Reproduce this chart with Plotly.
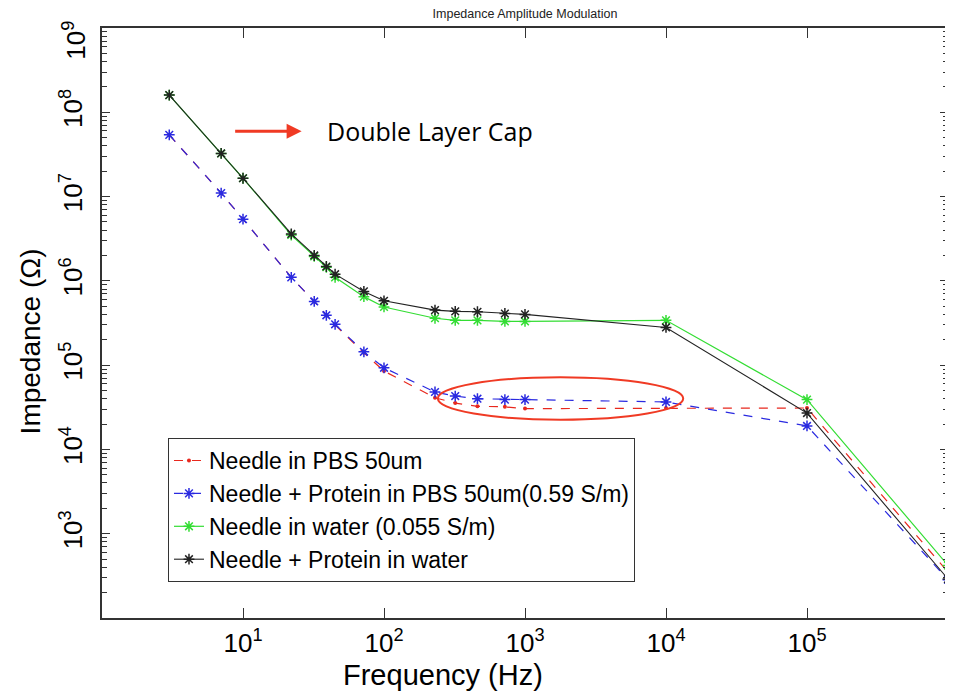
import plotly.graph_objects as go

freq = [3, 7, 10, 22, 32, 39, 45, 72, 100, 230, 320, 460, 720, 1000, 1e4, 1e5, 1e6]

pbs = [5.4e7, 1.1e7, 5.4e6, 1.1e6, 5.7e5, 3.9e5, 3.0e5, 1.4e5, 8.5e4, 4.1e4, 3.55e4, 3.25e4, 3.2e4, 3.05e4, 3.1e4, 3.1e4, 350]
pbs_protein = [5.4e7, 1.1e7, 5.4e6, 1.1e6, 5.7e5, 3.9e5, 3.05e5, 1.44e5, 9.3e4, 4.8e4, 4.3e4, 4.0e4, 3.9e4, 3.9e4, 3.66e4, 1.9e4, 285]
water = [1.6e8, 3.25e7, 1.65e7, 3.5e6, 1.95e6, 1.45e6, 1.1e6, 6.5e5, 4.9e5, 3.6e5, 3.4e5, 3.4e5, 3.3e5, 3.3e5, 3.4e5, 3.9e4, 420]
water_protein = [1.6e8, 3.25e7, 1.65e7, 3.6e6, 2.0e6, 1.48e6, 1.2e6, 7.5e5, 5.8e5, 4.5e5, 4.35e5, 4.3e5, 4.1e5, 4.0e5, 2.8e5, 2.7e4, 290]

names = ["Needle in PBS 50um",
         "Needle + Protein in PBS 50um(0.59 S/m)",
         "Needle in water (0.055 S/m)",
         "Needle + Protein in water"]

x_tickvals = [10, 100, 1000, 1e4, 1e5]
x_ticktext = ["10<sup>1</sup>", "10<sup>2</sup>", "10<sup>3</sup>", "10<sup>4</sup>", "10<sup>5</sup>"]
y_tickvals = [1e3, 1e4, 1e5, 1e6, 1e7, 1e8, 1e9]
y_ticktext = ["10<sup>3</sup>", "10<sup>4</sup>", "10<sup>5</sup>", "10<sup>6</sup>",
              "10<sup>7</sup>", "10<sup>8</sup>", ""]
y_top_label = "10<sup>9</sup>"   # drawn nudged inside the top edge, as in the reference
y_minor = [k * 10 ** e for e in range(2, 9) for k in range(2, 10)]

FONT = "Liberation Sans, Arial, sans-serif"

fig = go.Figure()
fig.add_trace(go.Scatter(x=freq, y=pbs, name=names[0], mode="lines+markers",
                         line=dict(color="#e8281e", width=1.2, dash="dash"),
                         marker=dict(symbol="circle", size=4, color="#e8281e")))
fig.add_trace(go.Scatter(x=freq, y=pbs_protein, name=names[1], mode="lines+markers",
                         line=dict(color="#2a2ae0", width=1.2, dash="dash"),
                         marker=dict(symbol="asterisk-open", size=9,
                                     line=dict(color="#1515ff", width=1.5))))
fig.add_trace(go.Scatter(x=freq, y=water, name=names[2], mode="lines+markers",
                         line=dict(color="#33dd33", width=1.2),
                         marker=dict(symbol="asterisk-open", size=9,
                                     line=dict(color="#22dd22", width=1.5))))
fig.add_trace(go.Scatter(x=freq, y=water_protein, name=names[3], mode="lines+markers",
                         line=dict(color="#222222", width=1.1),
                         marker=dict(symbol="asterisk-open", size=9,
                                     line=dict(color="#000000", width=1.5))))

# page has an 8px body margin, so the figure is 945x685 placed at (8, 8)
fig.update_layout(
    width=945, height=685,
    margin=dict(l=94, r=5, t=20, b=75, autoexpand=False),
    paper_bgcolor="white", plot_bgcolor="white",
    font=dict(family=FONT, color="black"),
    title=dict(text="Impedance Amplitude Modulation", xref="paper", x=0.5, xanchor="center",
               yref="container", y=1 - 6 / 685, yanchor="middle",
               font=dict(size=12.5, family=FONT, color="#222")),
    legend=dict(x=0.078, y=0.305, xanchor="left", yanchor="top",
                bordercolor="#333", borderwidth=1, bgcolor="white",
                font=dict(size=23, family=FONT), tracegroupgap=0),
    showlegend=True,
)

fig.update_xaxes(type="log", range=[0, 6], tickmode="array", tickvals=x_tickvals,
                 ticktext=x_ticktext, ticks="inside", ticklen=10, tickwidth=1,
                 tickcolor="#333", showline=True, linecolor="#333", linewidth=1.5,
                 mirror="ticks", showgrid=False, zeroline=False, automargin=False,
                 tickfont=dict(size=26, family=FONT), ticklabelstandoff=1)

fig.update_yaxes(type="log", range=[2, 9], tickmode="array", tickvals=y_tickvals,
                 ticktext=y_ticktext, ticks="inside", ticklen=8, tickwidth=1,
                 tickcolor="#333", showline=True, linecolor="#333", linewidth=1.5,
                 mirror="ticks", showgrid=False, zeroline=False, tickangle=-90,
                 automargin=False, ticklabelstandoff=8,
                 tickfont=dict(size=26, family=FONT),
                 minor=dict(tickmode="array", tickvals=y_minor, ticks="inside",
                            ticklen=5, tickcolor="#333", showgrid=False))

fig.add_annotation(xref="paper", yref="paper", x=-0.032, y=0.98, xanchor="center",
                   yanchor="middle", text=y_top_label, showarrow=False, textangle=-90,
                   font=dict(size=26, family=FONT, color="black"))

# axis titles (placed where the reference has them)
fig.add_annotation(xref="paper", yref="paper", x=0.403, y=-0.097, xanchor="center",
                   yanchor="middle", text="Frequency (Hz)", showarrow=False,
                   font=dict(size=29, family=FONT, color="black"))
fig.add_annotation(xref="paper", yref="paper", x=-0.085, y=0.469, xanchor="center",
                   yanchor="middle", text="Impedance (Ω)", showarrow=False, textangle=-90,
                   font=dict(size=28, family=FONT, color="black"))

# arrow, label and ellipse
fig.add_annotation(xref="paper", yref="paper", x=0.236, y=0.825, ax=-68, ay=0,
                   axref="pixel", ayref="pixel", text="", showarrow=True,
                   arrowhead=2, arrowsize=1, arrowwidth=3, arrowcolor="#f03a24")
fig.add_annotation(xref="paper", yref="paper", x=0.2636, y=0.825, xanchor="left",
                   yanchor="middle", text="Double Layer Cap", showarrow=False,
                   font=dict(size=25, family="Open Sans, sans-serif", color="black"))
fig.add_shape(type="circle", xref="paper", yref="paper",
              x0=0.397, x1=0.687, y0=0.336, y1=0.408,
              line=dict(color="#f03a24", width=2))

fig.write_html("out.html")
